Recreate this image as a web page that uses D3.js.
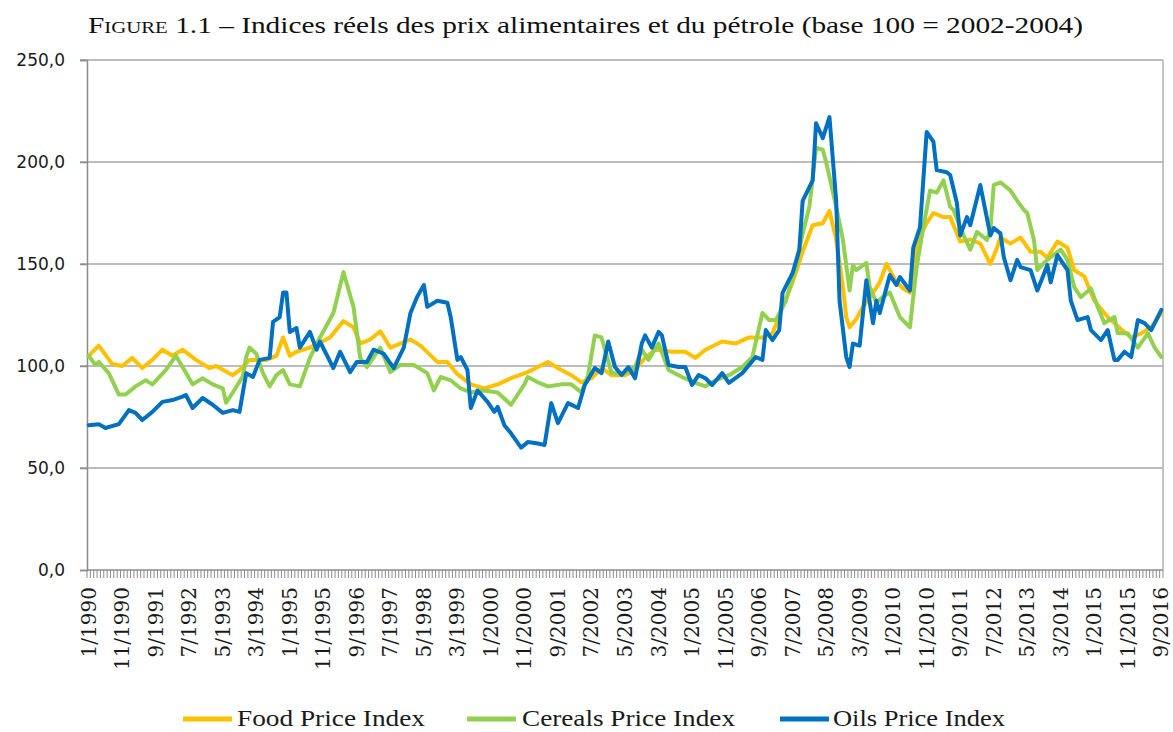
<!DOCTYPE html>
<html>
<head>
<meta charset="utf-8">
<script src="https://cdn.jsdelivr.net/npm/d3@7"></script>
<style>
  body { margin: 0; background: #fff; }
  svg { display: block; }
</style>
</head>
<body>
<div id="chart"></div>
<script>
// --- Données ---
// catégories mensuelles : 1/1990 ... 9/2016
const months = [];
for (let y = 1990; y <= 2016; y++) {
  for (let m = 1; m <= 12; m++) {
    if (y === 2016 && m > 9) break;
    months.push(`${m}/${y}`);
  }
}
const labelStep = 10;
const yTicks = [0, 50, 100, 150, 200, 250];

// [indice du mois, valeur]
const foodIndex = [
  [0,105],[3,110],[7,101],[10,100],[13,104],[16,99],[19,103],[22,108],[25,105],[28,108],
  [32,103],[36,99],[38,100],[43,95.5],[45,98],[48,103],[53,103],[56,105],[58,114],[60,105],
  [62,107],[66,109],[72,114],[76,122],[79,119],[81,111],[84,113],[87,117],[90,109],[93,111],
  [96,113],[99,110],[104,102],[107,102],[110,96],[114,91],[118,89],[122,91],[126,94],[131,97],
  [134,99.5],[137,102],[141,98],[144,95.5],[147,92],[150,94],[153,99],[156,95.5],[160,95.5],[163,98],
  [166,104],[169,108],[174,107],[178,107],[181,104],[184,108],[189,112],[193,111],[197,114],[201,114],
  [204,116],[207,129],[210,141],[213,156],[216,169],[219,170],[221,176],[223,162],[225,139],[226,124],
  [227,119],[229,123],[231,129],[234,136],[236,141],[238,150],[241,141],[243,138],[245,136],[247,160],
  [250,170],[252,175],[255,173],[257,173],[260,161],[263,162],[266,160],[269,150],[271,158],[272,163],
  [275,160],[278,163],[281,156],[284,156],[286,153],[289,161],[292,158],[294,147],[297,144],[300,132],
  [304,124],[308,118],[311,114],[314,116],[317,119],[320,126]
];

const cerealsIndex = [
  [0,105],[2,100.5],[3,102],[6,96.5],[9,86],[11,86],[14,90],[17,93],[19,91],[23,98],
  [26,105],[28,99.5],[31,91],[34,94],[37,91],[40,89],[41,82],[43,87],[46,95],[47,104.5],
  [48,109],[50,106],[52,96.5],[54,90],[56,95.5],[58,98],[60,91],[63,90],[66,104],[69,114],
  [73,126],[76,146],[79,129],[81,104],[83,99.5],[87,109],[90,97],[93,100.5],[97,100.5],[101,96.5],
  [103,88],[105,94.6],[108,93],[111,89],[114,87],[118,88],[122,87],[126,81],[130,91],[131,94.6],
  [134,92],[137,90],[141,91],[144,91],[147,87],[149,95.6],[151,115],[153,114],[156,96.5],[160,96.5],
  [163,99.5],[165,108],[167,103],[170,111],[173,98],[177,94.6],[181,91.7],[184,90],[187,93],[191,95.5],
  [195,99.5],[198,104.4],[201,126],[203,122.5],[205,122.5],[208,132],[211,148.5],[213,165],[215,178],[217,207],
  [219,206],[220,200],[223,178],[225,162],[227,137],[228,149.5],[229,147],[232,150.5],[233,138.7],[235,131],
  [237,134],[239,136],[242,124],[245,119],[247,148.5],[249,168],[251,186],[253,185],[255,191],[257,178],
  [258,176.5],[261,164],[263,157],[265,165.7],[268,161.8],[269,166.7],[270,188.7],[272,190],[275,186],[277,181],
  [279,176.5],[280,175],[282,161.8],[283,147],[285,150.5],[287,153.4],[290,157],[292,152],[294,138.7],[296,133.8],
  [299,138],[301,129],[303,121],[306,124],[307,116],[310,116],[313,109],[316,116],[318,109],[320,104.4]
];

const oilsIndex = [
  [0,71],[3,71.5],[5,69.6],[9,71.5],[12,78.4],[14,77],[16,73.5],[19,77.5],[22,82.4],[25,83.3],
  [28,85],[29,85.8],[31,79.4],[34,84.3],[37,81],[40,77],[43,78.4],[45,77.5],[47,96.5],[49,94.6],
  [51,103],[54,104],[55,121.6],[57,124],[58,136],[59,136],[60,116.7],[62,118.6],[63,109],[66,116.7],
  [68,108],[69,112],[73,99],[75,107],[78,97],[80,102],[83,102],[85,108],[88,106],[91,99],
  [94,109],[96,126],[98,134],[100,139.7],[101,129],[104,132],[107,131],[108,124],[110,103],[111,104.4],
  [113,98],[114,79.4],[116,88],[119,82.4],[121,77.5],[122,80],[124,71],[126,67],[129,60],[131,62.7],
  [134,62],[136,61.3],[138,81.8],[140,72],[143,81.8],[146,79.4],[148,90.7],[151,99],[153,96.5],[155,112],
  [157,99.5],[159,95.6],[161,99.5],[163,94],[165,111],[166,115],[168,109],[170,116.7],[171,115],[173,100.5],
  [176,99.5],[178,99.5],[180,90.7],[182,95.6],[184,94],[186,90.7],[189,96.5],[191,91.7],[195,96.5],[199,104.4],
  [201,103],[202,117.6],[204,112.7],[206,117.6],[207,135.8],[210,145.6],[212,157],[213,181],[216,191],[217,219],
  [219,211.7],[221,222],[223,181],[224,132],[226,104.4],[227,99.5],[228,111],[230,110],[232,142],[234,121],
  [235,132],[236,126],[239,144.6],[241,139.7],[242,143.6],[245,137],[246,158],[248,168],[250,214.7],[252,210],
  [253,196],[256,195],[257,193.6],[259,180],[260,164],[262,173],[263,169],[266,188.7],[269,164],[270,167.6],
  [272,165],[273,153.4],[275,142],[277,152],[278,148.5],[281,147],[283,137],[284,141],[286,149.5],[287,141],
  [289,154.4],[292,147],[293,132],[295,122.5],[298,124],[299,117.6],[302,112.7],[304,117.6],[306,103],[307,103],
  [309,107],[311,104.4],[313,122.5],[315,121],[317,117.6],[320,127.5]
];

const series = [
  { name: "Food Price Index", data: foodIndex, color: "#FFC000" },
  { name: "Cereals Price Index", data: cerealsIndex, color: "#92D050" },
  { name: "Oils Price Index", data: oilsIndex, color: "#0070C0" },
];

// --- Dimensions ---
const W = 1173, H = 732;
const plot = { left: 87, right: 1163, top: 60, bottom: 570 };

const svg = d3.select("#chart").append("svg")
  .attr("width", W).attr("height", H);

const x = d3.scaleBand()
  .domain(d3.range(months.length))
  .range([plot.left, plot.right])
  .paddingInner(0).paddingOuter(0);
const cx = (i) => x(i) + x.bandwidth() / 2;

const y = d3.scaleLinear().domain([0, 250]).range([plot.bottom, plot.top]);

// titre
svg.append("text")
  .attr("x", 88).attr("y", 33)
  .attr("font-family", "Liberation Serif, DejaVu Serif, serif")
  .attr("font-size", 24)
  .attr("fill", "#111")
  .attr("textLength", 995)
  .attr("lengthAdjust", "spacingAndGlyphs")
  .html('<tspan style="font-variant: small-caps">Figure</tspan> 1.1 – Indices réels des prix alimentaires et du pétrole (base 100 = 2002-2004)');

// grille horizontale
svg.append("g")
  .selectAll("line")
  .data(yTicks.filter((d) => d > 0))
  .join("line")
  .attr("x1", plot.left - 7).attr("x2", plot.right)
  .attr("y1", (d) => y(d)).attr("y2", (d) => y(d))
  .attr("stroke", "#a6a6a6").attr("stroke-width", 1.5);

// axe Y
const yAxis = svg.append("g").attr("transform", `translate(${plot.left},0)`)
  .call(d3.axisLeft(y).tickValues(yTicks).tickSize(7)
    .tickFormat((d) => d3.format(".1f")(d).replace(".", ",")));
yAxis.select(".domain").attr("stroke", "#8c8c8c").attr("stroke-width", 1.5);
yAxis.selectAll(".tick line").attr("stroke", "#8c8c8c").attr("stroke-width", 1.5);
yAxis.selectAll(".tick text")
  .attr("x", -22)
  .attr("font-family", "DejaVu Sans, Verdana, sans-serif")
  .attr("font-size", 17)
  .attr("fill", "#1a1a1a");

// bord droit
svg.append("line")
  .attr("x1", plot.right).attr("x2", plot.right)
  .attr("y1", plot.top).attr("y2", plot.bottom)
  .attr("stroke", "#b0b0b0").attr("stroke-width", 1.5);

// axe X : graduations à chaque mois
const xg = svg.append("g");
xg.selectAll("line.tick")
  .data(d3.range(months.length + 1))
  .join("line")
  .attr("class", "tick")
  .attr("x1", (i) => plot.left + i * x.bandwidth())
  .attr("x2", (i) => plot.left + i * x.bandwidth())
  .attr("y1", plot.bottom).attr("y2", plot.bottom + 8)
  .attr("stroke", "#8c8c8c").attr("stroke-width", 1);
xg.append("line")
  .attr("x1", plot.left).attr("x2", plot.right)
  .attr("y1", plot.bottom).attr("y2", plot.bottom)
  .attr("stroke", "#8c8c8c").attr("stroke-width", 1.5);

xg.selectAll("text")
  .data(d3.range(0, months.length, labelStep))
  .join("text")
  .attr("transform", (i) => `translate(${cx(i) + 7},${plot.bottom + 17}) rotate(-90)`)
  .attr("text-anchor", "end")
  .attr("font-family", "DejaVu Serif, Liberation Serif, serif")
  .attr("font-size", 20)
  .attr("fill", "#1a1a1a")
  .text((i) => months[i]);

// courbes
const line = d3.line()
  .x((d) => cx(d[0]))
  .y((d) => y(d[1]));

svg.append("g")
  .selectAll("path")
  .data(series)
  .join("path")
  .attr("d", (s) => line(s.data))
  .attr("fill", "none")
  .attr("stroke", (s) => s.color)
  .attr("stroke-width", 4)
  .attr("stroke-linejoin", "round")
  .attr("stroke-linecap", "round");

// légende
const legendPos = [
  { lx: 183, tx: 237, w: 188 },
  { lx: 467, tx: 522, w: 213 },
  { lx: 780, tx: 833, w: 172 },
];
const lg = svg.append("g");
series.forEach((s, i) => {
  const p = legendPos[i];
  lg.append("line")
    .attr("x1", p.lx).attr("x2", p.lx + 49)
    .attr("y1", 719).attr("y2", 719)
    .attr("stroke", s.color).attr("stroke-width", 5);
  lg.append("text")
    .attr("x", p.tx).attr("y", 726)
    .attr("font-family", "Liberation Serif, DejaVu Serif, serif")
    .attr("font-size", 23)
    .attr("fill", "#1a1a1a")
    .attr("textLength", p.w)
    .attr("lengthAdjust", "spacingAndGlyphs")
    .text(s.name);
});
</script>
</body>
</html>
